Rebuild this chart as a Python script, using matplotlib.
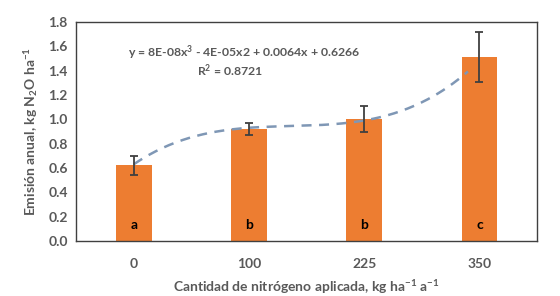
import numpy as np
import matplotlib
matplotlib.use("Agg")
import matplotlib.pyplot as plt

plt.rcParams['font.family'] = ['Lato', 'DejaVu Sans']
plt.rcParams['font.weight'] = 'bold'
plt.rcParams['axes.labelweight'] = 'bold'
plt.rcParams['mathtext.fontset'] = 'custom'
plt.rcParams['mathtext.rm'] = 'Lato:bold'
plt.rcParams['mathtext.it'] = 'Lato:bold'
plt.rcParams['mathtext.bf'] = 'Lato:bold'

# data
categories = ['0', '100', '225', '350']
emission = [0.62, 0.92, 1.00, 1.51]
errors = [0.08, 0.05, 0.105, 0.205]
letters = ['a', 'b', 'b', 'c']
# trend curve read at each category
trend_y = [0.63, 0.93, 0.99, 1.48]

grey = '#595959'
orange = '#ed7d31'

fig = plt.figure(figsize=(5.6, 2.96), dpi=100)
ax = fig.add_axes([0.136, 0.186, 0.823, 0.740])

pos = np.arange(len(categories))
ax.bar(pos, emission, width=0.31, color=orange, zorder=2)
ax.errorbar(pos, emission, yerr=errors, fmt='none', ecolor='#404040',
            elinewidth=1.3, capsize=3, capthick=1.3, zorder=4)

coef = np.polyfit(pos, trend_y, 3)
xs = np.linspace(0, 2.9, 200)
ax.plot(xs, np.polyval(coef, xs), ls=(0, (4, 3)), color='#7f97b5', lw=1.8, zorder=3)

for p, l in zip(pos, letters):
    ax.text(p, 0.13, l, ha='center', va='center', fontsize=10,
            color='black', fontweight='bold', zorder=5)

ax.set_xlim(-0.5, 3.5)
ax.set_ylim(0, 1.8)
ax.set_yticks(np.arange(0, 1.81, 0.2))
ax.set_yticklabels(['%.1f' % v for v in np.arange(0, 1.81, 0.2)])
ax.set_xticks(pos)
ax.set_xticklabels(categories)
ax.tick_params(length=0, labelsize=10, labelcolor=grey, pad=6)
ax.tick_params(axis='x', pad=12)
for s in ax.spines.values():
    s.set_color('#404040')
    s.set_linewidth(1.0)

ax.set_ylabel(r'Emisión anual, kg N$_2$O ha$^{-1}$', fontsize=10, color=grey, labelpad=6)
ax.set_xlabel(r'Cantidad de nitrógeno aplicada, kg ha$^{-1}$ a$^{-1}$', fontsize=10,
              color=grey, labelpad=6)

fig.text(0.228, 0.822, r'y = 8E-08x$^3$ - 4E-05x2 + 0.0064x + 0.6266', fontsize=8.8,
         color=grey, ha='left', va='center', fontweight='bold')
fig.text(0.41, 0.762, r'R$^2$ = 0.8721', fontsize=8.8, color=grey, ha='center',
         va='center', fontweight='bold')

fig.savefig('out.png', dpi=100)
